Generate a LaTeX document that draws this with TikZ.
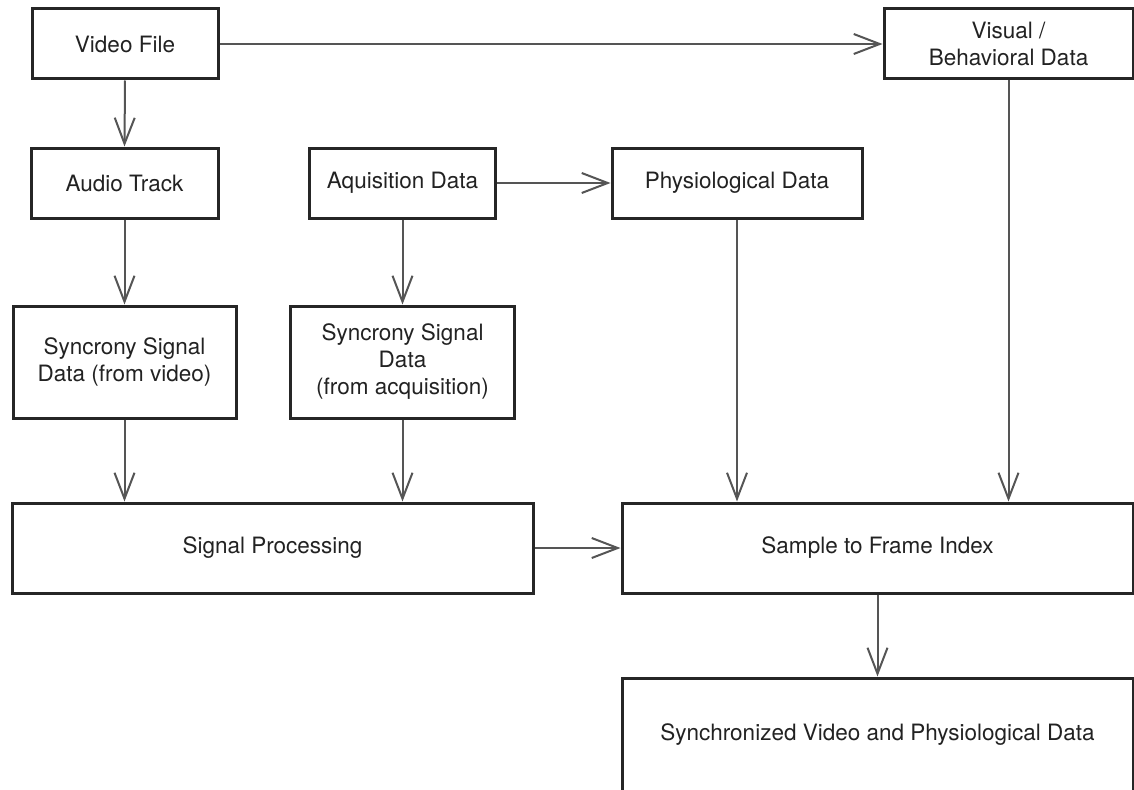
\documentclass[tikz,border=0pt]{standalone}
\usepackage{fontspec}
\setmainfont{TeX Gyre Heros}
\usetikzlibrary{arrows.meta}
\definecolor{boxc}{HTML}{262626}
\definecolor{linec}{HTML}{555555}
\definecolor{txtc}{HTML}{222222}
\tikzset{
  box/.style={draw=boxc, line width=3pt, fill=white, text=txtc,
    font=\fontsize{22.5}{27}\selectfont, align=center, inner sep=0pt},
  conn/.style={draw=linec, line width=2pt,
    -{Straight Barb[length=26pt,width=20pt,line width=2pt]}}
}
\begin{document}
\begin{tikzpicture}[x=1pt,y=-1pt]
  \useasboundingbox (0,0) rectangle (1134,789);
  % top row
  \node[box, minimum width=186, minimum height=70] (vf) at (125,44) {Video File};
  \node[box, minimum width=249, minimum height=70] (vb) at (1008.5,44) {Visual /\\Behavioral Data};
  % second row
  \node[box, minimum width=187, minimum height=70] (at) at (124.5,183) {Audio Track};
  \node[box, minimum width=186, minimum height=70] (aq) at (402.5,183) {Aquisition Data};
  \node[box, minimum width=250, minimum height=70] (pd) at (737,183) {Physiological Data};
  % synchrony signals
  \node[box, minimum width=223, minimum height=112] (sv) at (124.5,362) {Syncrony Signal\\Data (from video)};
  \node[box, minimum width=224, minimum height=112] (sa) at (402.5,362) {Syncrony Signal\\Data\\(from acquisition)};
  % processing
  \node[box, minimum width=521, minimum height=90] (sp) at (272.5,548) {Signal Processing};
  \node[box, minimum width=511, minimum height=90] (sf) at (877.5,548) {Sample to Frame Index};
  \node[box, minimum width=511, minimum height=114] (sy) at (877.5,735) {Synchronized Video and Physiological Data};
  % connectors
  \draw[conn] (vf.east) -- (vb.west);
  \draw[conn] (vf.south) -- (at.north);
  \draw[conn] (at.south) -- (sv.north);
  \draw[conn] (aq.east) -- (pd.west);
  \draw[conn] (aq.south) -- (sa.north);
  \draw[conn] (sv.south) -- (sv.south |- sp.north);
  \draw[conn] (sa.south) -- (sa.south |- sp.north);
  \draw[conn] (sp.east) -- (sf.west);
  \draw[conn] (pd.south) -- (pd.south |- sf.north);
  \draw[conn] (vb.south) -- (vb.south |- sf.north);
  \draw[conn] (sf.south) -- (sy.north);
\end{tikzpicture}
\end{document}
